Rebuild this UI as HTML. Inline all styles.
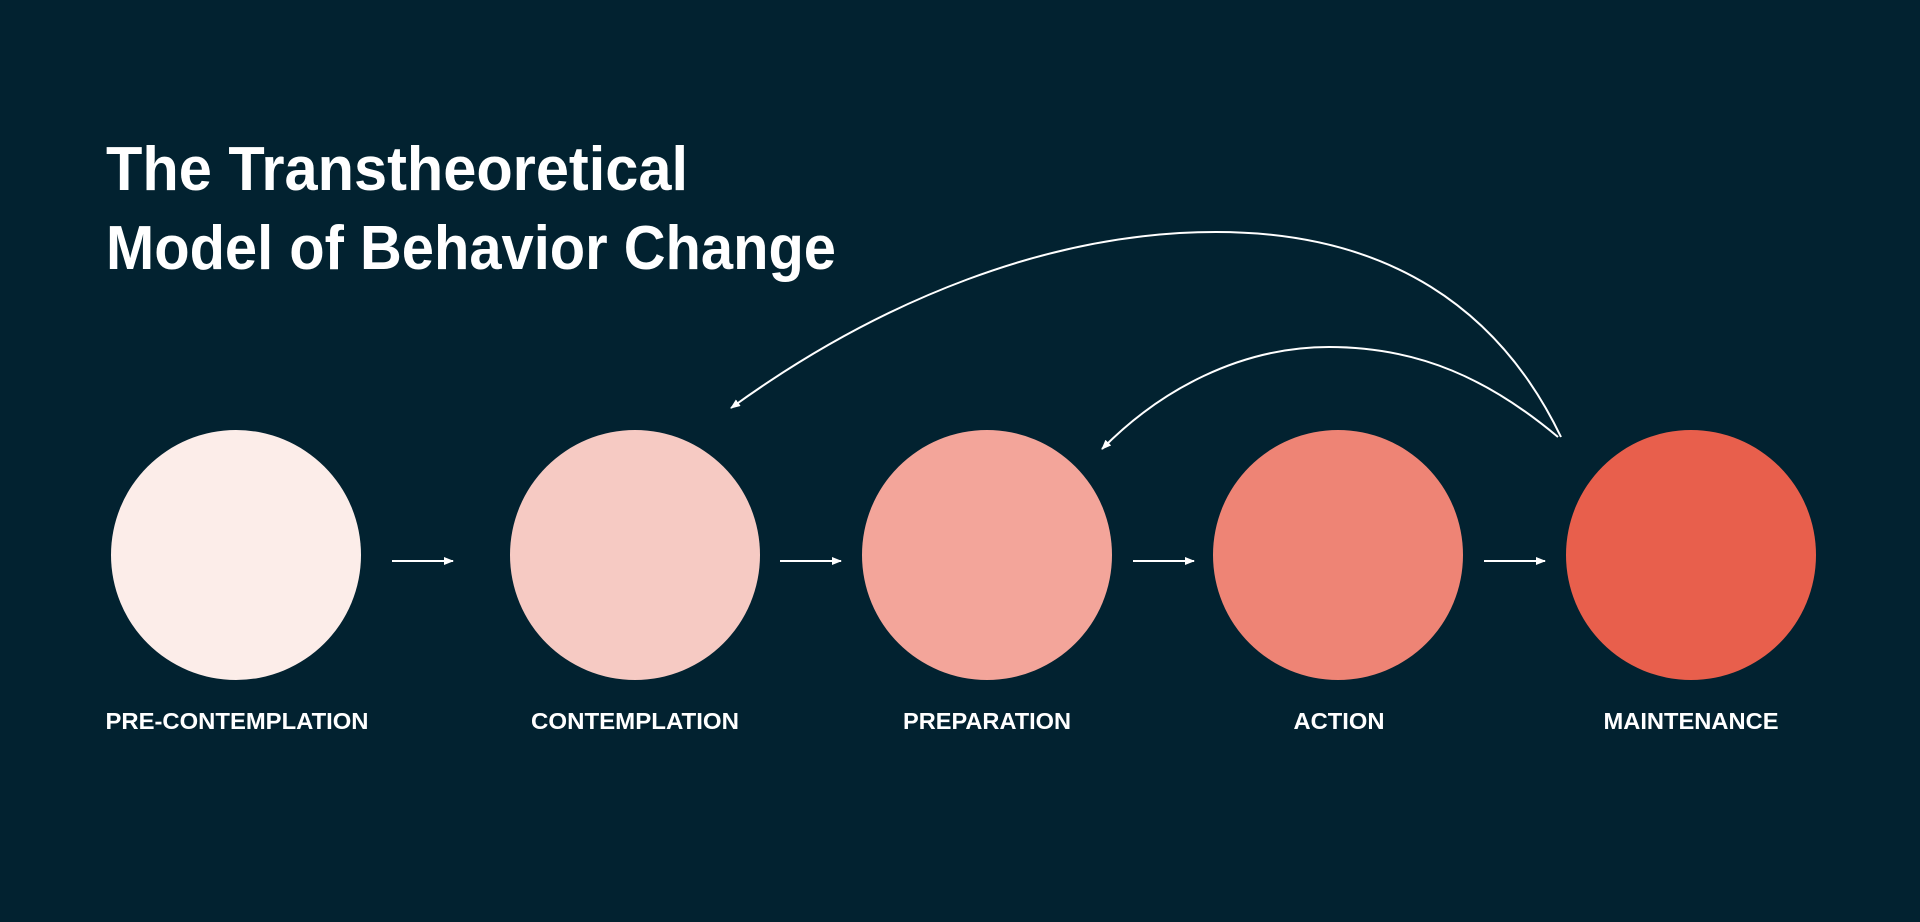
<!DOCTYPE html>
<html><head><meta charset="utf-8"><style>
html,body{margin:0;padding:0;background:#022230;}
svg{display:block}
</style></head><body>
<svg width="1920" height="922" viewBox="0 0 1920 922" xmlns="http://www.w3.org/2000/svg">
<defs>
<marker id="a" markerWidth="10" markerHeight="8" refX="9" refY="4" orient="auto" markerUnits="userSpaceOnUse">
<path d="M0,0 L10,4 L0,8 Z" fill="#fff"/>
</marker>
</defs>
<rect width="1920" height="922" fill="#022230"/>
<g font-family="Liberation Sans, sans-serif" font-weight="bold" fill="#fff">
<text x="106" y="190" font-size="62" textLength="582" lengthAdjust="spacingAndGlyphs">The Transtheoretical</text>
<text x="106" y="269" font-size="62" textLength="730" lengthAdjust="spacingAndGlyphs">Model of Behavior Change</text>
</g>
<circle cx="236" cy="555" r="125" fill="#fcede9"/>
<circle cx="635" cy="555" r="125" fill="#f6cac3"/>
<circle cx="987" cy="555" r="125" fill="#f3a59a"/>
<circle cx="1338" cy="555" r="125" fill="#ee8475"/>
<circle cx="1691" cy="555" r="125" fill="#e85f4c"/>
<g stroke="#fff" stroke-width="2" fill="none">
<line x1="392" y1="561" x2="453" y2="561" marker-end="url(#a)"/>
<line x1="780" y1="561" x2="841" y2="561" marker-end="url(#a)"/>
<line x1="1133" y1="561" x2="1194" y2="561" marker-end="url(#a)"/>
<line x1="1484" y1="561" x2="1545" y2="561" marker-end="url(#a)"/>
<path d="M1561,437 C1500,310 1390,232 1216,232 C1050,232 880,300 731,408" marker-end="url(#a)"/>
<path d="M1558,437 C1490,380 1420,347 1329,347 C1240,347 1160,390 1102,449" marker-end="url(#a)"/>
</g>
<g font-family="Liberation Sans, sans-serif" font-weight="bold" fill="#fff" font-size="23" text-anchor="middle">
<text x="237" y="729" textLength="263" lengthAdjust="spacingAndGlyphs">PRE-CONTEMPLATION</text>
<text x="635" y="729" textLength="208" lengthAdjust="spacingAndGlyphs">CONTEMPLATION</text>
<text x="987" y="729" textLength="168" lengthAdjust="spacingAndGlyphs">PREPARATION</text>
<text x="1339" y="729" textLength="91" lengthAdjust="spacingAndGlyphs">ACTION</text>
<text x="1691" y="729" textLength="175" lengthAdjust="spacingAndGlyphs">MAINTENANCE</text>
</g>
</svg>
</body></html>
